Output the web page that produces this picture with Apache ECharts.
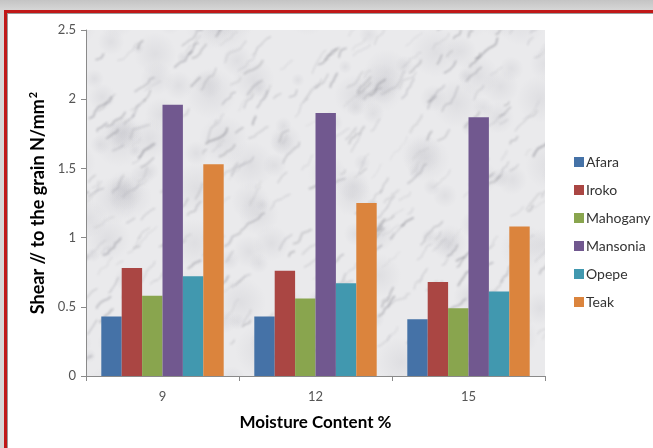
<!DOCTYPE html>
<html>
<head>
<meta charset="utf-8">
<script src="https://cdn.jsdelivr.net/npm/echarts@6/dist/echarts.min.js"></script>
<style>
  html, body { margin: 0; padding: 0; width: 653px; height: 448px; overflow: hidden;
    background: linear-gradient(#c4c4c4, #d6d6d6 10px, #d6d6d6); }
  #frame { position: absolute; left: 4px; top: 10px; width: 660px; height: 450px;
    border: 3px solid #c01818; box-shadow: inset 1px 1px 0 #9a9a9a; background: #fff; }
  #chart { position: absolute; left: 0; top: 0; width: 653px; height: 448px; }
</style>
</head>
<body>
<div id="frame"></div>
<div id="chart"></div>
<script>
// Moisture content categories (%)
const categories = ['9', '12', '15'];

// Shear parallel to the grain, N/mm², per species
const afara    = [0.43, 0.43, 0.41];
const iroko    = [0.78, 0.76, 0.68];
const mahogany = [0.58, 0.56, 0.49];
const mansonia = [1.96, 1.90, 1.87];
const opepe    = [0.72, 0.67, 0.61];
const teak     = [1.53, 1.25, 1.08];

const speciesNames = ['Afara', 'Iroko', 'Mahogany', 'Mansonia', 'Opepe', 'Teak'];
const speciesData  = [afara, iroko, mahogany, mansonia, opepe, teak];
const speciesColors = ['#4572a7', '#aa4643', '#89a54e', '#71588f', '#4198af', '#db843d'];

const font = 'Lato, "Open Sans", sans-serif';

const W = 653, H = 448;

// Marble-like fill for the plot area: pale stone with soft diagonal grey veins.
// The pattern is anchored at the canvas origin, so it is painted over the whole chart size.
function marbleTexture(w, h) {
  const c = document.createElement('canvas');
  c.width = w; c.height = h;
  const g = c.getContext('2d');
  g.fillStyle = '#eaeaec';
  g.fillRect(0, 0, w, h);
  const hash = (n) => { const s = Math.sin(n * 127.1 + 311.7) * 43758.5453; return s - Math.floor(s); };

  // cloudy grey mottling
  for (let k = 0; k < 260; k++) {
    const x = hash(k + 500) * w, y = hash(k + 600) * h;
    const r = 6 + hash(k + 700) * 20;
    const grd = g.createRadialGradient(x, y, 0, x, y, r);
    grd.addColorStop(0, 'rgba(165,165,175,0.17)');
    grd.addColorStop(1, 'rgba(165,165,175,0)');
    g.fillStyle = grd;
    g.fillRect(x - r, y - r, 2 * r, 2 * r);
  }

  // veins running from lower left to upper right
  g.filter = 'blur(1px)';
  g.lineCap = 'round';
  g.lineJoin = 'round';
  for (let k = 0; k < 700; k++) {
    let x = hash(k) * (w + 40) - 20;
    let y = hash(k + 1000) * (h + 40) - 20;
    const len = 2 + Math.floor(hash(k + 2000) * 6);
    g.strokeStyle = 'rgba(110,110,120,' + (0.12 + hash(k + 3000) * 0.33).toFixed(2) + ')';
    g.lineWidth = 0.6 + hash(k + 4000) * 1.4;
    g.beginPath();
    g.moveTo(x, y);
    for (let s = 0; s < len; s++) {
      const ang = -0.8 + (hash(k * 31 + s + 5000) - 0.5) * 1.1;
      const step = 2 + hash(k * 17 + s + 6000) * 4;
      x += Math.cos(ang) * step;
      y += Math.sin(ang) * step;
      g.lineTo(x, y);
    }
    g.stroke();
  }
  g.filter = 'none';
  return c;
}

const chart = echarts.init(document.getElementById('chart'), null, { renderer: 'canvas' });

chart.setOption({
  backgroundColor: 'transparent',
  animation: false,
  color: speciesColors,
  grid: {
    left: 86, right: 108, top: 30, bottom: 72,
    show: true,
    backgroundColor: { image: marbleTexture(W, H), repeat: 'no-repeat' },
    borderWidth: 0
  },
  legend: {
    orient: 'vertical',
    left: 569, top: 150,
    itemWidth: 10, itemHeight: 10, itemGap: 14,
    icon: 'rect',
    textStyle: { fontFamily: font, fontSize: 14, color: '#333', padding: [0, 0, 0, -3] },
    data: speciesNames
  },
  xAxis: {
    type: 'category',
    data: categories,
    name: 'Moisture Content %',
    nameLocation: 'middle',
    nameGap: 38,
    nameTextStyle: { fontFamily: font, fontSize: 17, fontWeight: 'bold', color: '#000' },
    axisLine: { lineStyle: { color: '#8a8a8a' } },
    axisTick: { show: true, length: 5, lineStyle: { color: '#8a8a8a' } },
    axisLabel: { fontFamily: font, fontSize: 13, color: '#555', margin: 14 }
  },
  yAxis: {
    type: 'value',
    min: 0, max: 2.5, interval: 0.5,
    name: 'Shear // to the grain N/mm{sup|2}',
    nameLocation: 'middle',
    nameGap: 38,
    nameTextStyle: {
      fontFamily: font, fontSize: 18, fontWeight: 'bold', color: '#000',
      rich: { sup: { fontFamily: font, fontSize: 11, fontWeight: 'bold', color: '#000', verticalAlign: 'top', padding: [0, 0, 8, 1] } }
    },
    axisLine: { show: true, lineStyle: { color: '#8a8a8a' } },
    axisTick: { show: true, length: 5, lineStyle: { color: '#8a8a8a' } },
    splitLine: { show: false },
    axisLabel: { fontFamily: font, fontSize: 13, color: '#555', margin: 10 }
  },
  series: speciesNames.map((name, i) => ({
    name: name,
    type: 'bar',
    data: speciesData[i],
    barGap: '0%',
    barCategoryGap: '20%'
  }))
});
</script>
</body>
</html>
